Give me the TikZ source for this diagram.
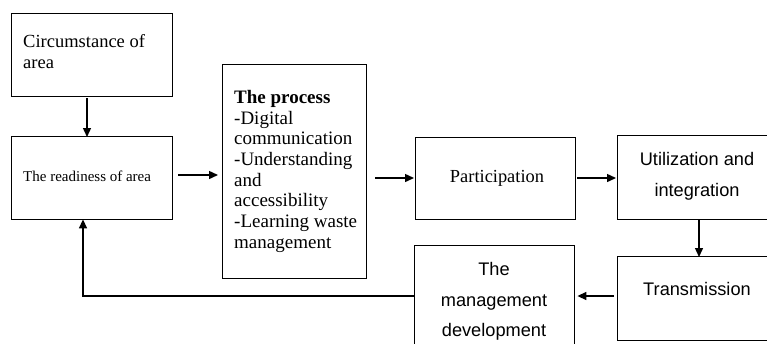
\documentclass[tikz,border=0pt]{standalone}
\usepackage{fontspec}
\setmainfont{Liberation Serif}
\newfontfamily\arialfont{Liberation Sans}
\usetikzlibrary{arrows.meta}
\begin{document}
\begin{tikzpicture}[x=1pt,y=-1pt,
  box/.style={draw, line width=1.4pt, inner sep=0pt, anchor=north west},
  txt/.style={inner sep=0pt, align=left, anchor=base west},
  ctxt/.style={inner sep=0pt, align=center, anchor=base},
  arr/.style={line width=1.4pt, -{Triangle[length=9pt,width=8pt]}}]
\useasboundingbox (0,0) rectangle (767,343);
\clip (0,0) rectangle (767,343);

% boxes
\node[box, minimum width=161pt, minimum height=83pt] (circ) at (11,13) {};
\node[box, minimum width=161pt, minimum height=83pt] (ready) at (11,136) {};
\node[box, minimum width=144pt, minimum height=214pt] (proc) at (222,64) {};
\node[box, minimum width=160pt, minimum height=82pt] (part) at (415,137) {};
\node[box, minimum width=165pt, minimum height=84pt] (util) at (617,135) {};
\node[box, minimum width=165pt, minimum height=84pt] (trans) at (617,256) {};
\node[box, minimum width=160pt, minimum height=120pt] (mgmt) at (414,245) {};

% texts (anchored at the baseline of their last line)
\node[txt, font=\fontsize{18.5}{21}\selectfont] (circT) at (23,68.3)
  {Circumstance of\\area};
\node[txt, font=\fontsize{15}{17}\selectfont] (readyT) at (23,181.7)
  {The readiness of area};
\node[txt, font=\fontsize{19}{20.7}\selectfont] (procT) at (234,248.3)
  {\textbf{The process}\\-Digital\\communication\\-Understanding\\and\\accessibility\\-Learning waste\\management};
\node[ctxt, font=\fontsize{18.4}{20}\selectfont] (partT) at (497,182.3)
  {Participation};
\node[ctxt, font=\arialfont\fontsize{18.2}{31.7}\selectfont] (utilT) at (697,196.7)
  {Utilization and\\integration};
\node[ctxt, font=\arialfont\fontsize{18.2}{31}\selectfont] (transT) at (697,295)
  {Transmission};
\node[ctxt, font=\arialfont\fontsize{18.2}{30.5}\selectfont] (mgmtT) at (494,336.7)
  {The\\management\\development};

% connectors
\draw[arr] (circ.south -| 87,0) ++(0,1) -- ([yshift=-1pt]ready.north -| 87,0);
\draw[arr] ([xshift=5pt]ready.east |- 0,175) -- ([xshift=-4pt]proc.west |- 0,175);
\draw[arr] ([xshift=8pt]proc.east |- 0,178) -- ([xshift=-1pt]part.west |- 0,178);
\draw[arr] ([xshift=1pt]part.east |- 0,178) -- ([xshift=-1pt]util.west |- 0,178);
\draw[arr] (util.south -| 699,0) -- ([yshift=-1pt]trans.north -| 699,0);
\draw[arr] ([xshift=-3pt]trans.west |- 0,296) -- ([xshift=2pt]mgmt.east |- 0,296);
\draw[arr] (mgmt.west |- 0,296) -| ([yshift=1pt]ready.south -| 83,0);
\end{tikzpicture}
\end{document}
